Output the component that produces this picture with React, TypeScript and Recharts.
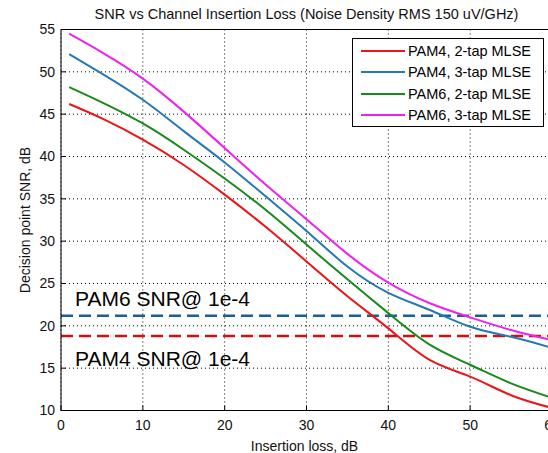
import React from 'react'
import { CartesianGrid, Legend, Line, LineChart, ReferenceLine, XAxis, YAxis } from 'recharts'

// insertion loss (dB) sample points
const loss = [1, 5, 10, 15, 20, 25, 30, 35, 40, 45, 50, 55, 60]
const pam4Tap2 = [46.2, 44.5, 42.0, 39.0, 35.5, 31.7, 27.6, 23.5, 19.7, 16.0, 14.0, 11.8, 10.3]
const pam4Tap3 = [52.1, 49.8, 46.7, 43.0, 39.3, 35.3, 31.2, 27.0, 23.9, 21.9, 19.9, 18.7, 17.4]
const pam6Tap2 = [48.2, 46.4, 43.9, 40.8, 37.4, 33.7, 29.6, 25.5, 21.5, 17.8, 15.4, 13.2, 11.5]
const pam6Tap3 = [54.5, 52.3, 49.2, 45.3, 41.0, 36.7, 32.6, 28.5, 25.1, 22.7, 21.0, 19.5, 18.3]

const xTicks = [0, 10, 20, 30, 40, 50, 60]
const yTicks = [10, 15, 20, 25, 30, 35, 40, 45, 50, 55]

const pam6Limit = 21.2
const pam4Limit = 18.8

const series = [
  { key: 'pam4Tap2', name: 'PAM4, 2-tap MLSE', color: '#ea1518' },
  { key: 'pam4Tap3', name: 'PAM4, 3-tap MLSE', color: '#2479b5' },
  { key: 'pam6Tap2', name: 'PAM6, 2-tap MLSE', color: '#178a1a' },
  { key: 'pam6Tap3', name: 'PAM6, 3-tap MLSE', color: '#ee22ee' },
]

const data = loss.map((x, i) => ({
  x,
  pam4Tap2: pam4Tap2[i],
  pam4Tap3: pam4Tap3[i],
  pam6Tap2: pam6Tap2[i],
  pam6Tap3: pam6Tap3[i],
}))

const font = '"Liberation Sans", Arial, sans-serif'

function LegendBox({ payload }: any) {
  return (
    <div style={{ border: '1px solid #000', background: '#fff', width: 192, height: 89, boxSizing: 'border-box', paddingTop: 1, fontFamily: font }}>
      {(payload || []).map((p: any) => (
        <div key={p.value} style={{ display: 'flex', alignItems: 'center', height: 21.5 }}>
          <div style={{ marginLeft: 8, width: 44, height: 2, background: p.color }} />
          <span style={{ marginLeft: 3, fontSize: 14.5, color: '#000', lineHeight: '16px' }}>{p.value}</span>
        </div>
      ))}
    </div>
  )
}

const note = (text: string, dy: number) => (props: any) => {
  const vb = props.viewBox
  return (
    <text x={vb.x + 14} y={vb.y + dy} fontSize={21} fontFamily={font} fill="#000">
      {text}
    </text>
  )
}

const title = (props: any) => {
  const vb = props.viewBox
  return (
    <text x={vb.x + vb.width / 2} y={vb.y - 9.5} textAnchor="middle" fontSize={14.5} fontFamily={font} fill="#111">
      SNR vs Channel Insertion Loss (Noise Density RMS 150 uV/GHz)
    </text>
  )
}

const xLabel = (props: any) => {
  const vb = props.viewBox
  return (
    <text x={vb.x + vb.width / 2 - 2} y={vb.y + 40} textAnchor="middle" fontSize={14} fontFamily={font} fill="#111">
      Insertion loss, dB
    </text>
  )
}

const yLabel = (props: any) => {
  const vb = props.viewBox
  const cx = vb.x + 25
  const cy = vb.y + vb.height / 2
  return (
    <text x={cx} y={cy} transform={`rotate(-90 ${cx} ${cy})`} textAnchor="middle" dominantBaseline="central" fontSize={14} fontFamily={font} fill="#111">
      Decision point SNR, dB
    </text>
  )
}

const tickFont = { fontSize: 14, fill: '#111', fontFamily: font }

export default function App() {
  return (
    <div style={{ position: 'fixed', left: 0, top: 0, width: 548, height: 453, overflow: 'hidden', background: '#fff' }}>
      <LineChart width={560} height={453} data={data} margin={{ top: 28.5, right: 7, left: 0, bottom: 0 }}>
        <CartesianGrid stroke="#000" strokeDasharray="1 3" strokeWidth={1} />
        <XAxis
          dataKey="x"
          type="number"
          domain={[0, 60]}
          ticks={xTicks}
          height={42.5}
          stroke="#000"
          tickSize={-5}
          tickMargin={14.5}
          tick={tickFont}
          label={xLabel}
        />
        <XAxis
          xAxisId="top"
          orientation="top"
          type="number"
          domain={[0, 60]}
          ticks={xTicks}
          height={1}
          stroke="#000"
          tickSize={-5}
          tick={false}
          allowDataOverflow
          label={title}
        />
        <YAxis
          type="number"
          domain={[10, 55]}
          ticks={yTicks}
          width={61}
          stroke="#000"
          tickSize={-5}
          tickMargin={11}
          tick={tickFont}
          label={yLabel}
        />
        <YAxis
          yAxisId="right"
          orientation="right"
          type="number"
          domain={[10, 55]}
          ticks={yTicks}
          width={1}
          stroke="#000"
          tickSize={-5}
          tick={false}
          allowDataOverflow
        />
        <ReferenceLine y={pam6Limit} stroke="#1b5f90" strokeWidth={2.5} strokeDasharray="12 6" label={note('PAM6 SNR@ 1e-4', -10)} />
        <ReferenceLine y={pam4Limit} stroke="#d50d0d" strokeWidth={2.5} strokeDasharray="12 6" label={note('PAM4 SNR@ 1e-4', 30.5)} />
        {series.map((s) => (
          <Line
            key={s.key}
            type="natural"
            dataKey={s.key}
            name={s.name}
            stroke={s.color}
            strokeWidth={2}
            dot={false}
            isAnimationActive={false}
          />
        ))}
        <Legend
          layout="vertical"
          align="center"
          verticalAlign="middle"
          content={<LegendBox />}
          wrapperStyle={{ position: 'absolute', left: 352, top: 38, width: 192, height: 89, right: 'auto', bottom: 'auto' }}
        />
      </LineChart>
    </div>
  )
}
